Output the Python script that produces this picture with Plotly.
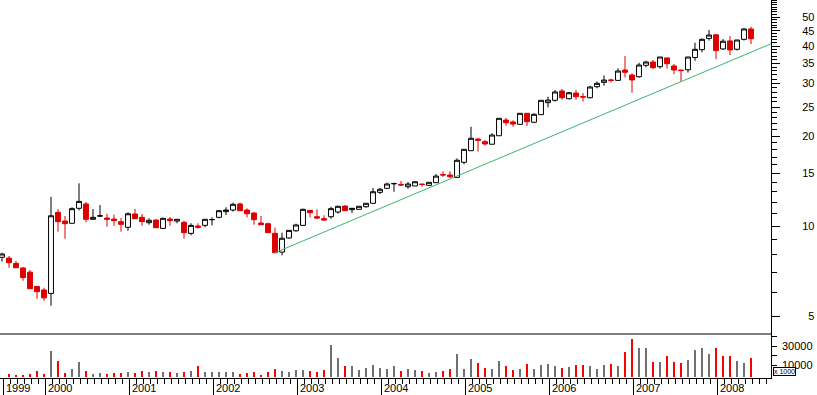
import plotly.graph_objects as go
import pandas as pd

# ---------------- data (monthly) ----------------
months = list(pd.date_range("1999-07-01", periods=108, freq="MS").strftime("%Y-%m"))

opens = [7.86, 7.81, 7.50, 7.24, 7.01, 6.28, 6.11, 5.95, 11.11, 10.39,
         10.21, 11.46, 11.85, 10.53, 10.80, 10.63, 10.55, 10.34, 9.90, 10.97,
         10.69, 10.26, 10.47, 9.82, 10.55, 10.39, 10.29, 9.45, 10.00, 10.05,
         10.50, 10.69, 11.17, 11.31, 11.85, 11.31, 11.05, 10.23, 10.18, 9.45,
         8.18, 9.12, 9.64, 10.05, 11.28, 10.74, 10.58, 10.74, 11.14, 11.66,
         11.34, 11.37, 11.60, 11.91, 12.96, 13.37, 13.85, 13.78, 13.53, 13.61,
         13.82, 13.68, 13.96, 14.87, 14.81, 14.54, 16.33, 17.86, 19.54, 19.14,
         18.77, 20.04, 22.62, 22.28, 21.88, 23.82, 22.23, 23.57, 25.85, 26.33,
         28.29, 26.65, 27.84, 27.10, 26.86, 29.24, 30.23, 30.80, 30.70, 33.25,
         31.99, 31.57, 34.47, 35.36, 34.10, 36.50, 34.30, 33.25, 33.30, 36.60,
         38.90, 42.40, 43.60, 39.10, 41.60, 39.00, 42.10, 45.60]
highs = [8.14, 7.94, 7.64, 7.28, 7.13, 6.28, 6.22, 12.53, 11.40, 10.80,
         11.55, 13.89, 12.03, 11.40, 11.75, 10.99, 10.91, 10.63, 11.11, 11.40,
         10.97, 10.61, 10.53, 10.66, 10.72, 10.53, 10.42, 10.21, 10.21, 10.53,
         10.69, 11.31, 11.55, 11.97, 11.97, 11.46, 11.11, 10.80, 10.26, 9.87,
         9.50, 9.67, 10.18, 11.43, 11.28, 11.37, 10.86, 11.60, 11.69, 11.75,
         11.46, 11.64, 11.91, 13.40, 13.40, 13.96, 13.96, 14.14, 14.03, 14.10,
         13.82, 14.00, 14.92, 15.24, 15.24, 16.84, 18.05, 21.48, 19.65, 19.40,
         20.42, 22.92, 23.02, 22.56, 23.82, 23.82, 23.82, 26.33, 27.06, 28.50,
         28.72, 28.07, 28.50, 27.84, 29.40, 30.47, 31.90, 31.10, 33.68, 37.04,
         32.40, 35.17, 35.70, 35.90, 36.75, 36.50, 34.80, 33.25, 36.75, 41.02,
         42.40, 45.24, 43.90, 42.20, 43.20, 41.90, 45.96, 46.40]
lows = [7.60, 7.25, 7.25, 6.56, 6.17, 5.71, 5.62, 5.41, 9.57, 9.07,
        10.21, 11.28, 10.29, 10.53, 10.74, 9.95, 10.02, 9.57, 9.64, 10.58,
        10.02, 10.10, 9.87, 9.82, 10.02, 10.21, 9.07, 9.31, 9.79, 9.90,
        10.05, 10.61, 10.88, 11.17, 11.25, 10.69, 10.10, 10.10, 9.50, 8.14,
        7.98, 9.07, 9.57, 10.05, 10.69, 10.55, 10.42, 10.58, 10.99, 11.25,
        11.05, 11.37, 11.51, 11.91, 12.79, 13.33, 13.02, 13.61, 13.33, 13.61,
        13.53, 13.68, 13.96, 14.61, 14.45, 14.54, 16.08, 17.86, 17.72, 18.56,
        18.77, 20.04, 21.65, 21.48, 21.88, 21.60, 22.07, 23.57, 24.94, 26.06,
        26.44, 26.50, 26.44, 26.06, 26.70, 28.88, 29.47, 30.23, 30.60, 31.42,
        27.91, 31.35, 33.95, 33.50, 33.60, 33.60, 32.20, 30.40, 32.60, 35.70,
        38.10, 41.70, 36.20, 38.80, 37.30, 38.60, 41.70, 40.60]
closes = [8.06, 7.54, 7.25, 6.72, 6.17, 6.03, 5.75, 10.82, 10.34, 10.18,
          11.43, 12.09, 10.53, 10.69, 10.81, 10.53, 10.42, 10.13, 10.99, 10.58,
          10.34, 10.45, 9.87, 10.61, 10.42, 10.53, 9.50, 10.05, 9.90, 10.53,
          10.51, 11.25, 11.31, 11.82, 11.25, 10.99, 10.50, 10.10, 9.50, 8.14,
          9.10, 9.67, 10.08, 11.37, 11.08, 10.63, 10.47, 11.43, 11.64, 11.25,
          11.46, 11.64, 11.91, 13.02, 13.27, 13.82, 13.86, 13.71, 13.82, 14.06,
          13.77, 14.00, 14.69, 14.81, 14.61, 16.59, 18.05, 19.65, 19.35, 18.81,
          20.15, 22.92, 22.15, 21.93, 23.82, 22.33, 23.64, 26.33, 26.38, 28.07,
          26.86, 27.91, 27.06, 27.00, 29.17, 30.00, 30.77, 30.70, 32.99, 32.66,
          30.80, 34.55, 35.36, 33.85, 36.75, 34.90, 33.25, 33.10, 36.75, 38.99,
          42.11, 43.52, 38.60, 41.50, 38.80, 41.90, 45.60, 42.30]
# volume in thousands (axis reads "x 1000")
volumes = [None, 3000, 1600, 1600, 2700, 5900, 3000, 27100, 16500, 3700,
           8000, 15400, 5900, 3000, 3700, 3000, 3700, 3700, 4800, 3700,
           5900, 4800, 5900, 4800, 4800, 3700, 4800, 5900, 11500, 4800,
           4800, 4800, 4800, 4800, 3000, 3700, 4800, 1600, 4800, 8000,
           5900, 4800, 6900, 6900, 5900, 4800, 6900, 33800, 19700, 11500,
           11500, 6900, 9000, 12200, 9000, 8000, 11500, 5900, 8000, 6900,
           5900, 3700, 4800, 5900, 8000, 23900, 8000, 18600, 14400, 9000,
           8000, 16500, 11200, 6900, 8000, 13300, 8000, 12200, 13300, 11200,
           9000, 10100, 12200, 12200, 11200, 8000, 12200, 13300, 11200, 26100,
           39900, 30300, 30300, 15400, 15400, 21800, 15400, 14400, 17600, 28200,
           30300, 23900, 30300, 21800, 21800, 16500, 14400, 19700]
# r = down-volume (red), g = up-volume (grey)
vol_dir = list("rrrrrrrgrr" "ggrggrrrgr" "rgrgrgrgrg" "ggggrrrrrr" "ggggrrrggr"
               "gggggggrgg" "rggrrgggrr" "ggrrgrgggg" "rgrrgggrgr" "rggrgrrrgg"
               "ggrrrggr")

year_labels = ["1999", "2000", "2001", "2002", "2003", "2004", "2005", "2006", "2007", "2008"]
price_ticks = [5, 10, 15, 20, 25, 30, 35, 40, 45, 50]
vol_ticks = [10000, 20000, 30000, 40000]
vol_labels = [10000, 30000]
trend_from = (39, 8.14)      # (month index, price)
trend_to = (109.86, 40.7)

# ---------------- figure ----------------
xs = list(range(len(months)))
RED = "#dd0000"
FONT = "Liberation Sans, Arial, sans-serif"
FS = 11

fig = go.Figure()
fig.add_trace(go.Candlestick(
    x=xs, open=opens, high=highs, low=lows, close=closes,
    increasing=dict(line=dict(color="black", width=1), fillcolor="white"),
    decreasing=dict(line=dict(color=RED, width=1), fillcolor=RED),
    whiskerwidth=0, xaxis="x", yaxis="y", showlegend=False,
    text=months, hoverinfo="text+y"))

fig.add_trace(go.Scatter(
    x=[trend_from[0], trend_to[0]], y=[trend_from[1], trend_to[1]],
    mode="lines", line=dict(color="#3cb371", width=1),
    xaxis="x", yaxis="y", showlegend=False, hoverinfo="skip"))

vol_colors = ["#ff0000" if d == "r" else "#707070" for d in vol_dir]
fig.add_trace(go.Bar(
    x=xs, y=[v if v is not None else 0 for v in volumes], base=-2500,
    marker=dict(color=vol_colors, line=dict(width=0)), width=0.16,
    xaxis="x", yaxis="y2", showlegend=False, hovertext=months))

year_idx = [0] + [i for i, m in enumerate(months) if m.endswith("-01")]
tick_off = 0.19
major_x = [i + tick_off for i in year_idx]

minor_vals = [v for v in range(5, 58) if v not in price_ticks]

fig.update_layout(
    width=817, height=395,
    margin=dict(l=0, r=46, t=0, b=17),
    paper_bgcolor="white", plot_bgcolor="white",
    bargap=0, boxgap=0.3, boxgroupgap=0,
    font=dict(family=FONT, size=FS, color="black"),
    xaxis=dict(
        domain=[0, 1], anchor="y2", range=[-2 / 7, 769 / 7],
        showgrid=False, zeroline=False, showline=True, linecolor="black", linewidth=1,
        ticks="outside", ticklen=17, tickwidth=1, tickcolor="black",
        tickmode="array", tickvals=major_x, showticklabels=False,
        minor=dict(ticks="outside", ticklen=5, tickwidth=1, tickcolor="black",
                   tick0=tick_off, dtick=1, showgrid=False),
        rangeslider=dict(visible=False)),
    yaxis=dict(
        domain=[44 / 378, 1], anchor="x", side="right", type="log",
        range=[0.6388, 1.7559],
        showgrid=False, zeroline=False, showline=True, linecolor="black", linewidth=1,
        ticks="outside", ticklen=8, tickwidth=1, tickcolor="black",
        tickmode="array", tickvals=price_ticks,
        ticktext=[("\u2007" + str(v)) if v < 10 else str(v) for v in price_ticks],
        ticklabelstandoff=20,
        tickfont=dict(family=FONT, size=FS, color="black"),
        minor=dict(ticks="outside", ticklen=5, tickwidth=1, tickcolor="black",
                   tickmode="array", tickvals=minor_vals, showgrid=False)),
    yaxis2=dict(
        domain=[0, 44 / 378], anchor="x", side="right",
        range=[-3720, 43090],
        showgrid=False, zeroline=False, showline=True, linecolor="black", linewidth=1,
        ticks="outside", ticklen=5, tickwidth=1, tickcolor="black",
        tickmode="array", tickvals=vol_ticks, showticklabels=False),
)

# separator between price and volume panes
fig.add_shape(type="line", xref="paper", yref="paper", x0=0, x1=1,
              y0=44 / 378, y1=44 / 378, line=dict(color="black", width=1))

annotations = []
for xi, lab in zip(major_x, year_labels):
    annotations.append(dict(x=xi, y=0, xref="x", yref="paper", text=lab,
                            showarrow=False, xanchor="left", yanchor="top",
                            xshift=1, yshift=-2,
                            font=dict(family=FONT, size=FS, color="black")))
for v in vol_labels:
    annotations.append(dict(x=1, y=v, xref="paper", yref="y2", text=str(v),
                            showarrow=False, xanchor="left", yanchor="middle",
                            xshift=9, font=dict(family=FONT, size=FS, color="black")))
annotations.append(dict(x=1, y=3200, xref="paper", yref="y2", text="x 1000",
                        showarrow=False, xanchor="left", yanchor="middle", xshift=2,
                        bgcolor="white", bordercolor="black", borderwidth=1, borderpad=0,
                        font=dict(family=FONT, size=7, color="black")))
fig.update_layout(annotations=annotations)

fig.write_html("out.html", config={"displayModeBar": False},
               post_script="document.body.style.margin='0';")
